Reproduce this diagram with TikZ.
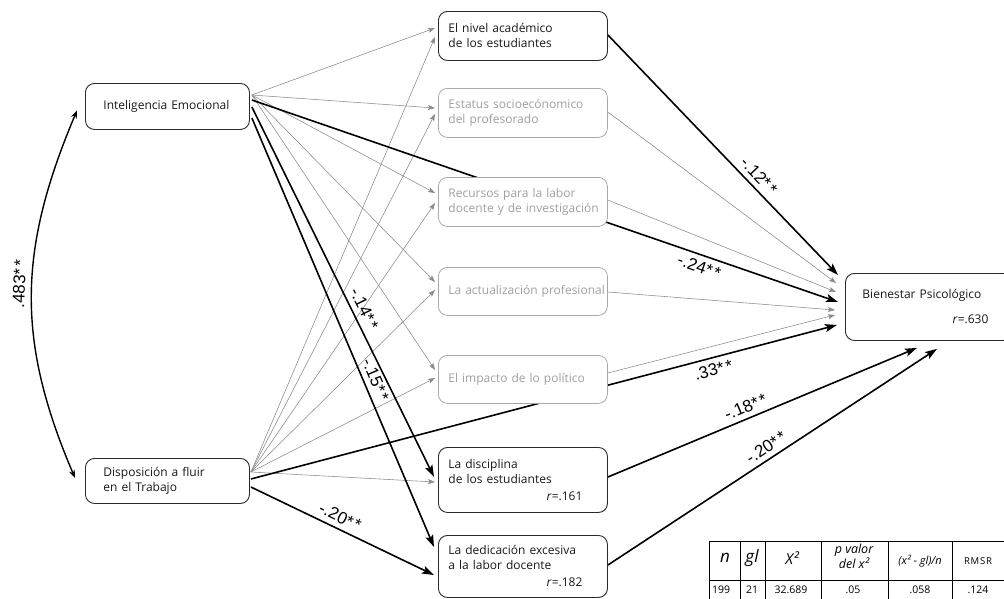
\documentclass[tikz,border=0pt]{standalone}
\usepackage{fontspec}
\setmainfont{Open Sans}
\newfontfamily\lblfont{Liberation Sans}
\usetikzlibrary{arrows.meta,calc}
\pgfdeclarelayer{bg}
\pgfsetlayers{bg,main}
\definecolor{edgegray}{HTML}{8A8A8A}
\definecolor{txtgray}{HTML}{A0A0A0}
\definecolor{boxgray}{HTML}{A8A8A8}
\definecolor{boxblack}{HTML}{2A2A2A}
\newcommand\twostars{*\kern2pt*}
\tikzset{
  nodefont/.style={font=\fontsize{12}{15}\selectfont},
  basebox/.style={nodefont, rounded corners=9pt, fill=white, anchor=north west, align=left, inner ysep=0pt, line width=0.9pt},
  darkbox/.style={basebox, draw=boxblack, text=black!90},
  lightbox/.style={basebox, draw=boxgray, text=txtgray, line width=0.8pt},
  leftbox/.style={minimum width=164pt, inner xsep=18pt, text width=128pt},
  midbox/.style={minimum width=169pt, inner xsep=10pt, text width=149pt},
  thickarrow/.style={line width=1.6pt, -{Stealth[length=12pt,width=8pt,inset=2.5pt]}},
  grayarrow/.style={line width=0.55pt, draw=edgegray, -{Stealth[length=7pt,width=5pt,inset=1.5pt]}},
  curvearrow/.style={line width=1.4pt, {Stealth[open,length=8pt,width=6pt]}-{Stealth[open,length=8pt,width=6pt]}},
  coef/.style={font=\lblfont\fontsize{17}{17}\selectfont, sloped, inner sep=0pt},
  tabline/.style={line width=0.9pt},
  tabtxt/.style={inner sep=0pt, font=\fontsize{10.5}{11}\selectfont},
}
\begin{document}
\begin{tikzpicture}[x=1pt,y=-1pt]
\useasboundingbox (0,0) rectangle (1004,598);

% boxes
\node[darkbox, leftbox, minimum height=46pt] (ie) at (85,83) {\mbox{Inteligencia Emocional}};
\node[darkbox, leftbox, minimum height=45pt] (disp) at (85,458) {\mbox{Disposición a fluir}\\en el Trabajo};
\node[darkbox, midbox, minimum height=49pt] (nivel) at (438,11) {\mbox{El nivel académico}\\\mbox{de los estudiantes}};
\node[lightbox, midbox, minimum height=49pt] (estatus) at (438,88) {\mbox{Estatus socioecónomico}\\del profesorado};
\node[lightbox, midbox, minimum height=49pt] (recursos) at (438,177) {\mbox{Recursos para la labor}\\\mbox{docente y de investigación}};
\node[lightbox, midbox, minimum height=48pt] (actual) at (438,267) {\mbox{La actualización profesional}};
\node[lightbox, midbox, minimum height=48pt] (impacto) at (438,355) {\mbox{El impacto de lo político}};
\node[darkbox, midbox, minimum height=65pt] (disc) at (438,447) {La disciplina\\\mbox{de los estudiantes}\\[2pt]\mbox{}\hfill\textit{r}=.161\hspace*{15pt}};
\node[darkbox, midbox, minimum height=62pt] (dedic) at (438,535) {\mbox{La dedicación excesiva}\\\mbox{a la labor docente}\\[2pt]\mbox{}\hfill\textit{r}=.182\hspace*{15pt}};
\node[darkbox, minimum width=167pt, inner xsep=17pt, text width=133pt, minimum height=67pt] (bien) at (845,273) {\mbox{Bienestar Psicológico}\\[10pt]\mbox{}\hfill\textit{r}=.630\hspace*{7pt}};

\begin{pgfonlayer}{bg}
% gray arrows from IE
\foreach \t/\dy in {nivel/17, estatus/20, recursos/16, actual/15, impacto/15}
  \draw[grayarrow] ($(ie.north east)+(2,12)$) -- ($(\t.north west)+(-3,\dy)$);
% gray arrows from Disposicion
\foreach \t/\dy in {nivel/26, estatus/26, recursos/26, actual/23, impacto/23, disc/35}
  \draw[grayarrow] ($(disp.north east)+(1,14)$) -- ($(\t.north west)+(-3,\dy)$);
% gray arrows to Bienestar
\draw[grayarrow] ($(estatus.north east)+(0,24)$) -- ($(bien.north west)+(-9,10)$);
\draw[grayarrow] ($(recursos.north east)+(0,23)$) -- ($(bien.north west)+(-9,19)$);
\draw[grayarrow] ($(actual.north east)+(0,25)$) -- ($(bien.north west)+(-10,37)$);
\draw[grayarrow] ($(impacto.north east)+(0,18)$) -- ($(bien.north west)+(-10,42)$);

% thick arrows
\draw[thickarrow] ($(ie.north east)+(2,17)$) -- ($(bien.north west)+(-7,29)$)
  node[coef, pos=0.77, below=5pt] {-.24\twostars};
\draw[thickarrow] ($(ie.north east)+(2,24)$) -- ($(disc.north west)+(-4,30)$)
  node[coef, pos=0.56, above=5pt] {-.14\twostars};
\draw[thickarrow] ($(ie.north east)+(2,35)$) -- ($(dedic.north west)+(-4,12)$)
  node[coef, pos=0.62, above=5pt] {-.15\twostars};
\draw[thickarrow] ($(disp.north east)+(1,21)$) -- ($(bien.north west)+(-8,52)$)
  node[coef, pos=0.784, below=5pt] {.33\twostars};
\draw[thickarrow] ($(disp.north east)+(1,29)$) -- ($(dedic.north west)+(-4,40)$)
  node[coef, pos=0.46, above=5pt] {-.20\twostars};
\draw[thickarrow] ($(nivel.north east)+(0,24)$) -- ($(bien.north west)+(-7,2)$)
  node[coef, pos=0.62, above=5pt] {-.12\twostars};
\draw[thickarrow] ($(disc.north east)+(0,30)$) -- ($(bien.south west)+(72,7)$)
  node[coef, pos=0.46, above=5pt] {-.18\twostars};
\draw[thickarrow] ($(dedic.north east)+(0,30)$) -- ($(bien.south west)+(92,8)$)
  node[coef, pos=0.50, above=5pt] {-.20\twostars};

% correlation curve
\draw[curvearrow] ($(disp.west)+(-10,-3)$) .. controls (16,340) and (18,250) .. ($(ie.west)+(-8,4)$)
  node[coef, pos=0.53, above=6pt] {.483\twostars};
\end{pgfonlayer}

% table
\draw[tabline] (709,541) -- (1012,541);
\draw[tabline] (709,580) -- (1012,580);
\foreach \xx in {709,740,765,821,888,952}
  \draw[tabline] (\xx,541) -- (\xx,605);
\node[tabtxt, font=\itshape\fontsize{17}{17}\selectfont] (hn) at (725,558) {n};
\node[tabtxt, font=\itshape\fontsize{17}{17}\selectfont] (hgl) at (752,558) {gl};
\node[tabtxt, font=\itshape\fontsize{15}{15}\selectfont] (hx) at (792,558) {X²};
\node[tabtxt, align=center, font=\itshape\fontsize{12.5}{9.5}\selectfont] (hp) at (854,556) {p valor\\del x²};
\node[tabtxt, font=\itshape\fontsize{11}{11}\selectfont] (hq) at (920,561) {(x² - gl)/n};
\node[tabtxt, font=\fontsize{9.5}{10}\selectfont\addfontfeature{LetterSpace=8}] (hr) at (978,561) {RMSR};
\node[tabtxt] (d1) at (721,590) {199};
\node[tabtxt] (d2) at (752,590) {21};
\node[tabtxt] (d3) at (791,590) {32.689};
\node[tabtxt] (d4) at (853,590) {.05};
\node[tabtxt] (d5) at (920,590) {.058};
\node[tabtxt] (d6) at (978,590) {.124};
\end{tikzpicture}
\end{document}
